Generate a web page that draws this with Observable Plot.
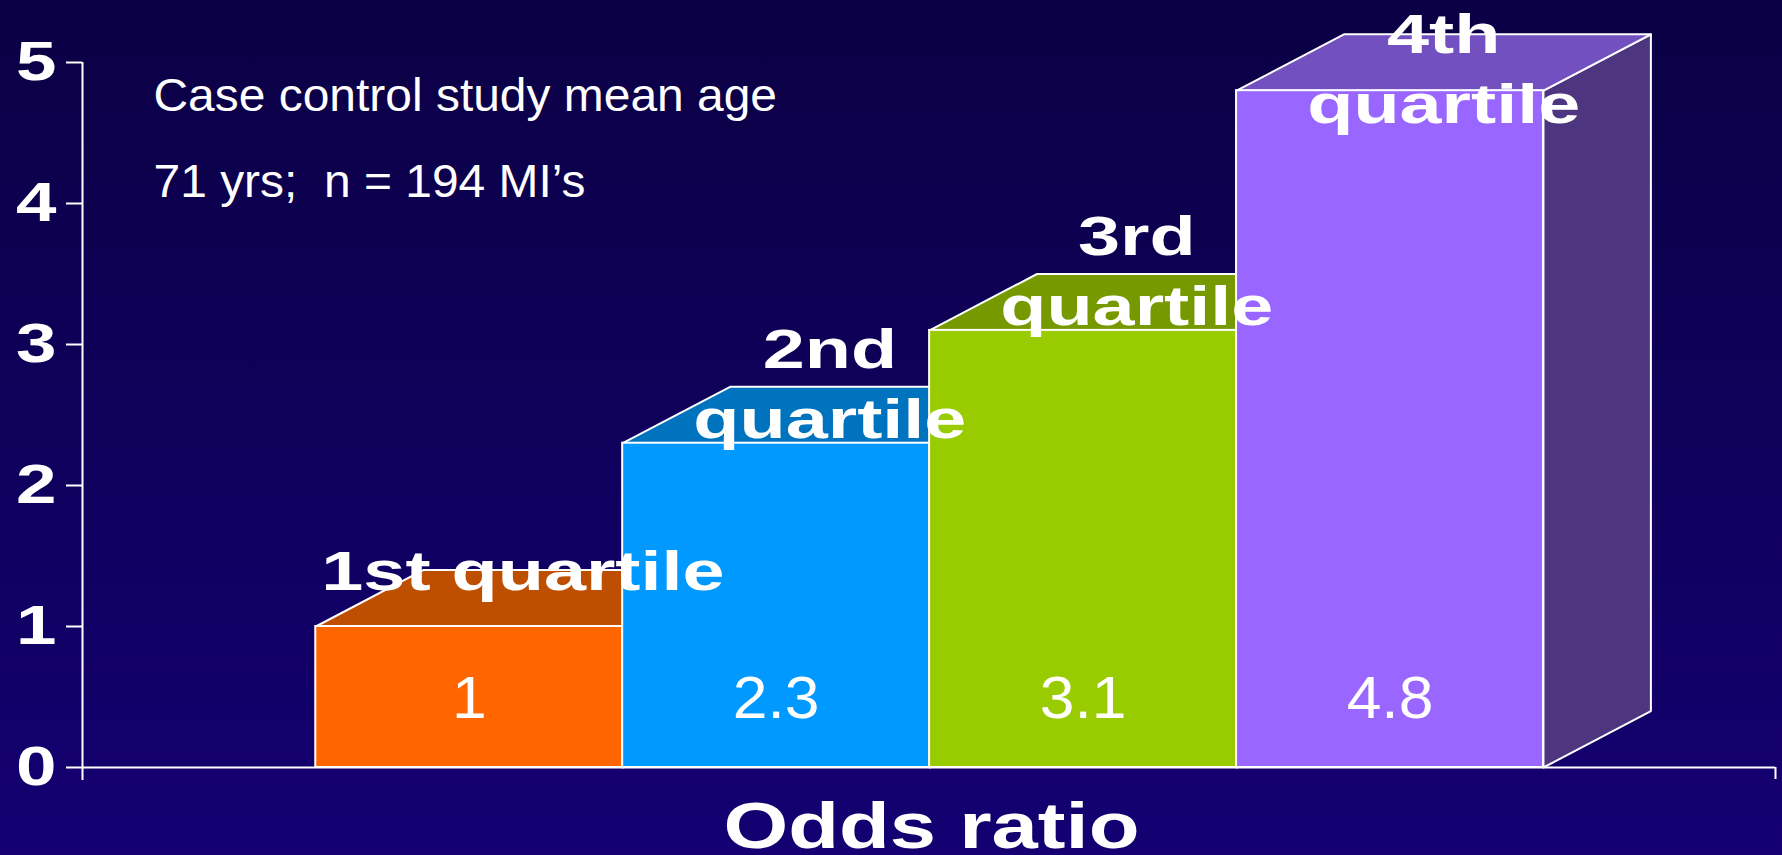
<!DOCTYPE html>
<html><head><meta charset="utf-8">
<script src="https://cdn.jsdelivr.net/npm/d3@7"></script>
<script src="https://cdn.jsdelivr.net/npm/@observablehq/plot@0.6"></script>
<style>
html,body{margin:0;padding:0;width:1782px;height:855px;overflow:hidden;background:linear-gradient(to bottom,#0b0044,#140072);}
#chart svg text{white-space:pre;}
</style></head><body><div id="chart"></div>
<script>
// ---- data ----
const categories = ["1st quartile", "2nd\nquartile", "3rd\nquartile", "4th\nquartile"];
const oddsRatios = [1, 2.3, 3.1, 4.8];
const valueLabels = ["1", "2.3", "3.1", "4.8"];
const yTicks = [0, 1, 2, 3, 4, 5];
const subtitleLines = ["Case control study mean age", "71 yrs;  n = 194 MI’s"];
const xAxisLabel = "Odds ratio";

// ---- styles ----
const frontColors = ["#ff6600", "#0099ff", "#99cc00", "#9966ff"];
const topColors   = ["#bf4f00", "#0073bf", "#779900", "#7250c0"];
const sideColors  = ["#803300", "#004d80", "#4d6600", "#4e3580"];
const FONT = "'Liberation Sans', Arial, Helvetica, sans-serif";

const W = 1782, H = 855;
const xDomain = [-0.76, 4.756];   // each bar occupies one unit
const DX = 0.35, DY = 0.40;       // 3-D depth (x units, y units)

const idx = categories.map((_, i) => i);
const tops = idx.flatMap(i => {
  const v = oddsRatios[i];
  return [[i, v], [i + 1, v], [i + 1 + DX, v + DY], [i + DX, v + DY]]
    .map(([x, y]) => ({i, x, y, c: topColors[i]}));
});
const sides = idx.flatMap(i => {
  const v = oddsRatios[i];
  return [[i + 1, 0], [i + 1, v], [i + 1 + DX, v + DY], [i + 1 + DX, DY]]
    .map(([x, y]) => ({i, x, y, c: sideColors[i]}));
});
const nLines = s => s.split("\n").length;
const labelBase = i => Math.min(oddsRatios[i] + (nLines(categories[i]) === 1 ? 0.26 : 0.035), 4.57);

const svg = Plot.plot({
  width: W, height: H,
  marginLeft: 82, marginRight: 7, marginTop: 62, marginBottom: 88,
  x: {domain: xDomain, axis: null},
  y: {domain: [0, 5], ticks: yTicks, tickSize: 16, tickPadding: 10, label: null, tickFormat: d => String(d)},
  color: {type: "identity"},
  style: {background: "transparent", color: "white", fontFamily: FONT, fontSize: "56px", fontWeight: "bold", overflow: "visible"},
  marks: [
    Plot.line(sides, {x: "x", y: "y", z: "i", fill: "c", stroke: "white", strokeWidth: 2, curve: "linear-closed"}),
    Plot.line(tops, {x: "x", y: "y", z: "i", fill: "c", stroke: "white", strokeWidth: 2, curve: "linear-closed"}),
    Plot.rect(idx, {x1: i => i, x2: i => i + 1, y1: 0, y2: i => oddsRatios[i], fill: i => frontColors[i], stroke: "white", strokeWidth: 2}),
    Plot.ruleX([xDomain[0]], {y1: -0.092, y2: 5, stroke: "white", strokeWidth: 2}),
    Plot.ruleY([0], {stroke: "white", strokeWidth: 2}),
    Plot.ruleX([xDomain[1]], {y1: -0.085, y2: 0, stroke: "white", strokeWidth: 2}),
    Plot.text(idx, {x: i => i + 0.5, y: 0, dy: -50, text: i => valueLabels[i], fill: "white",
      fontSize: 60, fontWeight: "normal", lineAnchor: "bottom", textAnchor: "middle"}),
    Plot.text(idx, {x: i => i + 0.5 + DX / 2, y: labelBase, text: i => categories[i], fill: "white",
      fontSize: 56, fontWeight: "bold", lineAnchor: "bottom", lineHeight: 1.25, textAnchor: "middle"}),
    Plot.text([subtitleLines.join("\n")], {frameAnchor: "top-left", dx: 71, dy: -12.5, fill: "white",
      fontSize: 47, fontWeight: "normal", lineAnchor: "top", lineHeight: 86 / 47, textAnchor: "start"}),
    Plot.text([xAxisLabel], {frameAnchor: "bottom", dx: 2.5, dy: 80, fill: "white",
      fontSize: 64, fontWeight: "bold", lineAnchor: "bottom", textAnchor: "middle"})
  ]
});
document.getElementById("chart").appendChild(svg);

// thicker axis ticks
svg.querySelectorAll("[aria-label^='y-axis'] line, [aria-label^='y-axis'] path").forEach(e => e.setAttribute("stroke-width", 2));

// horizontal stretch of slide text
svg.querySelectorAll("text").forEach(t => {
  const cs = getComputedStyle(t);
  const fw = cs.fontWeight, fs = parseFloat(cs.fontSize);
  let s = 1;
  if (fw === "700" || fw === "bold") s = fs >= 60 ? 1.3 : (fs === 56 && t.closest("[aria-label='text']") ? 1.35 : 1.3);
  else if (fs >= 58) s = 1.04;
  else if (fs >= 46) s = 1.02;
  if (s === 1) return;
  const T = t.getAttribute("transform") || "";
  const x = parseFloat(t.getAttribute("x")) || 0;
  t.setAttribute("transform", `${T} translate(${x},0) scale(${s},1) translate(${-x},0)`);
});
</script></body></html>
